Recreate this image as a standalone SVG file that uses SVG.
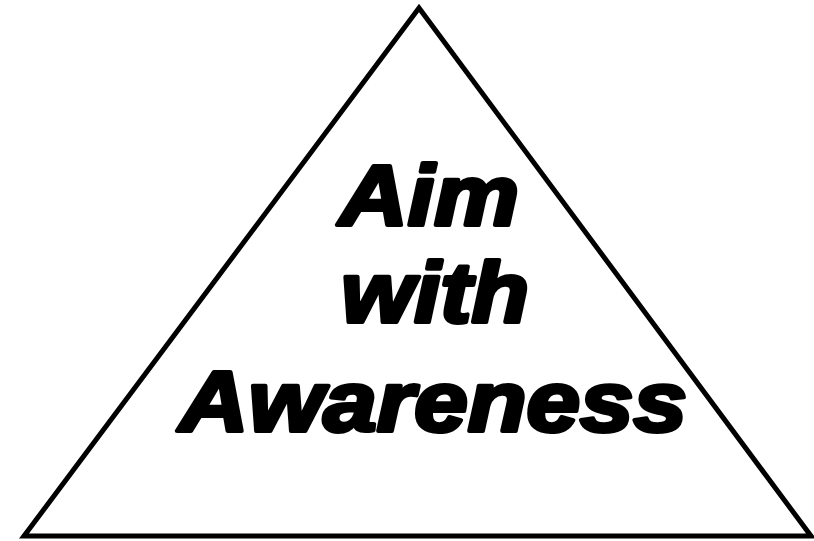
<svg xmlns="http://www.w3.org/2000/svg" width="814" height="541" viewBox="0 0 814 541">
<style>
.tri{fill:#fff;stroke:#000;stroke-width:5;stroke-linejoin:miter}
.t{font-family:"Liberation Sans",Arial,sans-serif;font-weight:bold;font-style:italic;font-size:85px;fill:#000;stroke:#000;stroke-width:4;stroke-linejoin:round}
</style>
<rect width="814" height="541" fill="#fff"/>
<g id="triangle">
<polygon class="tri" points="419,8 24,536 811,536"/>
</g>
<g id="label">
<text class="t" x="339" y="225" textLength="180" lengthAdjust="spacingAndGlyphs">Aim</text>
<text class="t" x="341" y="322" textLength="188" lengthAdjust="spacingAndGlyphs">with</text>
<text class="t" x="179" y="431" textLength="508" lengthAdjust="spacingAndGlyphs">Awareness</text>
</g>
</svg>
